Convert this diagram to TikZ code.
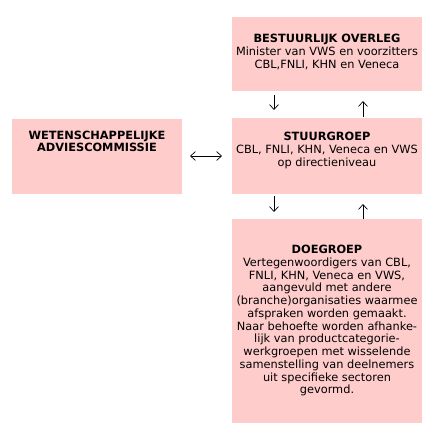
\documentclass[tikz,border=0pt]{standalone}
\usepackage{fontspec}
\setmainfont{DejaVu Sans}
\usetikzlibrary{arrows.meta,positioning}

\definecolor{boxpink}{RGB}{255,204,204}

\begin{document}
\begin{tikzpicture}[
    >={Straight Barb[length=5pt,width=9pt]},
    node distance=25bp,
    box/.style={
        fill=boxpink,
        inner sep=0pt,
        outer sep=0pt,
        minimum width=190bp
    },
    boxtext/.style={
        inner sep=0pt,
        align=center,
        font=\fontsize{11.4}{12.8}\selectfont
    },
    flow/.style={->,line width=0.7pt,black}
]

\useasboundingbox (0,0) rectangle (436bp,-436bp);

% the four blocks
\node[box,minimum height=74bp] (bestuur) at (327bp,-54bp) {};
\node[box,minimum height=76bp,below=27bp of bestuur] (stuur) {};
\node[box,minimum height=204bp,below=of stuur] (doe) {};
\node[box,minimum width=170bp,minimum height=75bp,left=50bp of stuur] (wac) {};

% texts
\node[boxtext,below=17bp of bestuur.north] (bestuurtxt)
    {\textbf{BESTUURLIJK OVERLEG}\\ Minister van VWS en voorzitters\\ CBL,FNLI, KHN en Veneca};
\node[boxtext,below=14bp of stuur.north] (stuurtxt)
    {\textbf{STUURGROEP}\\ CBL, FNLI, KHN, Veneca en VWS\\ op directieniveau};
\node[boxtext,below=12bp of wac.north] (wactxt)
    {\textbf{WETENSCHAPPELIJKE}\\ \textbf{ADVIESCOMMISSIE}};
\node[boxtext,below=26bp of doe.north] (doetxt)
    {\textbf{DOEGROEP}\\ Vertegenwoordigers van CBL,\\ FNLI, KHN, Veneca en VWS,\\
     aangevuld met andere\\ (branche)organisaties waarmee\\ afspraken worden gemaakt.\\
     Naar behoefte worden afhanke-\\ lijk van productcategorie-\\
     werkgroepen met wisselende\\ samenstelling van deelnemers\\
     uit specifieke sectoren\\ gevormd.};

% connectors
\draw[flow,shorten <=4bp,shorten >=8bp] ([xshift=-53bp]bestuur.south) -- ([xshift=-53bp]stuur.north);
\draw[flow,shorten <=1bp,shorten >=10bp] ([xshift=36bp]stuur.north) -- ([xshift=36bp]bestuur.south);
\draw[flow,shorten <=2bp,shorten >=7bp] ([xshift=-53bp]stuur.south) -- ([xshift=-53bp]doe.north);
\draw[flow,shorten <=0bp,shorten >=10bp] ([xshift=36bp]doe.north) -- ([xshift=36bp]stuur.south);
\draw[flow,<->,shorten <=8bp,shorten >=10bp] (wac.east) -- (stuur.west);

\end{tikzpicture}
\end{document}
